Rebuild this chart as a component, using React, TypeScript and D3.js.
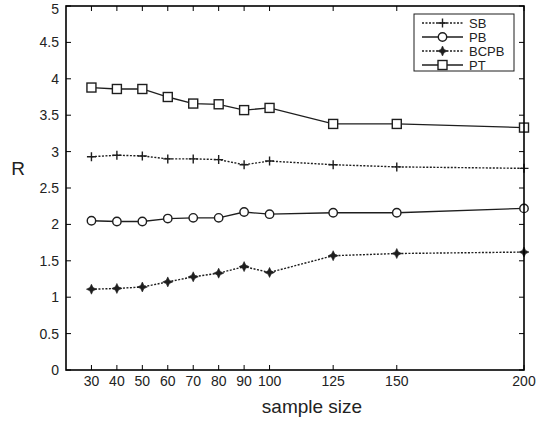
import * as d3 from "d3";
import React from "react";

// sample sizes on the x axis
const sampleSizes = [30, 40, 50, 60, 70, 80, 90, 100, 125, 150, 200];
const xTickValues = [30, 40, 50, 60, 70, 80, 90, 100, 125, 150, 200];
const yTickValues = [0, 0.5, 1, 1.5, 2, 2.5, 3, 3.5, 4, 4.5, 5];

const sbValues = [2.93, 2.95, 2.94, 2.9, 2.9, 2.89, 2.82, 2.87, 2.82, 2.79, 2.77];
const pbValues = [2.05, 2.04, 2.04, 2.08, 2.09, 2.09, 2.17, 2.14, 2.16, 2.16, 2.22];
const bcpbValues = [1.11, 1.12, 1.14, 1.21, 1.28, 1.33, 1.42, 1.34, 1.57, 1.6, 1.62];
const ptValues = [3.88, 3.86, 3.86, 3.75, 3.66, 3.65, 3.57, 3.6, 3.38, 3.38, 3.33];

const seriesNames = ["SB", "PB", "BCPB", "PT"];

type Marker = "plus" | "circle" | "star" | "square";

const series: { name: string; values: number[]; dashed: boolean; marker: Marker }[] = [
  { name: seriesNames[0], values: sbValues, dashed: true, marker: "plus" },
  { name: seriesNames[1], values: pbValues, dashed: false, marker: "circle" },
  { name: seriesNames[2], values: bcpbValues, dashed: true, marker: "star" },
  { name: seriesNames[3], values: ptValues, dashed: false, marker: "square" },
];

const ink = "#1e1e1e";

function MarkerShape({ type, x, y }: { type: Marker; x: number; y: number }) {
  if (type === "plus") {
    return (
      <path
        d={`M${x - 4.5},${y}H${x + 4.5}M${x},${y - 4.5}V${y + 4.5}`}
        stroke={ink}
        strokeWidth={1.4}
      />
    );
  }
  if (type === "circle") {
    return <circle cx={x} cy={y} r={4.2} fill="white" stroke={ink} strokeWidth={1.4} />;
  }
  if (type === "square") {
    return (
      <rect x={x - 4.5} y={y - 4.5} width={9} height={9} fill="white" stroke={ink} strokeWidth={1.4} />
    );
  }
  const a = 5;
  const b = 1.6;
  return (
    <path
      d={`M${x},${y - a}L${x + b},${y - b}L${x + a},${y}L${x + b},${y + b}L${x},${y + a}L${x - b},${y + b}L${x - a},${y}L${x - b},${y - b}Z`}
      fill={ink}
      stroke={ink}
      strokeWidth={0.6}
    />
  );
}

export default function App() {
  const width = 536;
  const height = 426;
  const left = 66;
  const right = 524;
  const top = 6;
  const bottom = 370;

  const x = d3.scaleLinear([20, 200], [left, right]);
  const y = d3.scaleLinear([0, 5], [bottom, top]);

  const line = d3
    .line<number>()
    .x((_, i) => x(sampleSizes[i]))
    .y((d) => y(d));

  const tickLen = 5;

  return (
    <svg
      width={width}
      height={height}
      style={{ position: "absolute", left: 0, top: 0, background: "white" }}
      fontFamily="'Liberation Sans', Arial, sans-serif"
    >
      {/* series */}
      {series.map((s) => (
        <g key={s.name}>
          <path
            d={line(s.values) ?? ""}
            fill="none"
            stroke={ink}
            strokeWidth={s.dashed ? 1.4 : 1.3}
            strokeDasharray={s.dashed ? "2,1.5" : undefined}
          />
          {s.values.map((v, i) => (
            <MarkerShape key={i} type={s.marker} x={x(sampleSizes[i])} y={y(v)} />
          ))}
        </g>
      ))}

      {/* ticks */}
      <g stroke="black" strokeWidth={1}>
        {xTickValues.map((t) => (
          <g key={`x${t}`}>
            <line x1={x(t)} x2={x(t)} y1={bottom} y2={bottom - tickLen} />
            <line x1={x(t)} x2={x(t)} y1={top} y2={top + tickLen} />
          </g>
        ))}
        {yTickValues.map((t) => (
          <g key={`y${t}`}>
            <line x1={left} x2={left + tickLen} y1={y(t)} y2={y(t)} />
            <line x1={right} x2={right - tickLen} y1={y(t)} y2={y(t)} />
          </g>
        ))}
      </g>

      {/* axes box */}
      <rect
        x={left}
        y={top}
        width={right - left}
        height={bottom - top}
        fill="none"
        stroke="black"
        strokeWidth={1.6}
      />

      {/* tick labels */}
      <g fontSize={14} fill="#222">
        {xTickValues.map((t) => (
          <text key={`xl${t}`} x={x(t)} y={bottom + 16} textAnchor="middle">
            {t}
          </text>
        ))}
        {yTickValues.map((t) => (
          <text key={`yl${t}`} x={left - 7} y={Math.max(y(t) + 5, 13.5)} textAnchor="end">
            {t}
          </text>
        ))}
      </g>

      {/* axis labels */}
      <text x={312} y={413} fontSize={19} textAnchor="middle" fill="#222">
        sample size
      </text>
      <text x={18} y={175} fontSize={19} textAnchor="middle" fill="#222">
        R
      </text>

      {/* legend */}
      <g>
        <rect x={414} y={14} width={100} height={57} fill="white" stroke={ink} strokeWidth={1} />
        {series.map((s, i) => {
          const ly = 23 + i * 14;
          return (
            <g key={`lg${s.name}`}>
              <line
                x1={422}
                x2={463}
                y1={ly}
                y2={ly}
                stroke={ink}
                strokeWidth={s.dashed ? 1.4 : 1.3}
                strokeDasharray={s.dashed ? "2,1.5" : undefined}
              />
              <MarkerShape type={s.marker} x={442.5} y={ly} />
              <text x={469} y={ly} dy="0.36em" fontSize={13} fill="#222">
                {s.name}
              </text>
            </g>
          );
        })}
      </g>
    </svg>
  );
}
